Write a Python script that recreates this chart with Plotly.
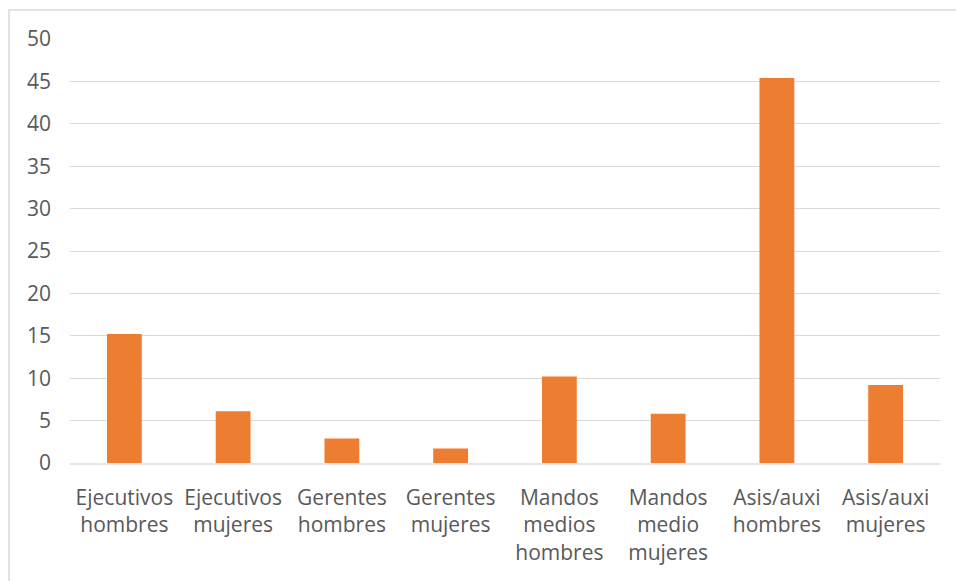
import plotly.graph_objects as go

# Categories (two/three-line labels) and values
categories = [
    "Ejecutivos<br>hombres",
    "Ejecutivos<br>mujeres",
    "Gerentes<br>hombres",
    "Gerentes<br>mujeres",
    "Mandos<br>medios<br>hombres",
    "Mandos<br>medio<br>mujeres",
    "Asis/auxi<br>hombres",
    "Asis/auxi<br>mujeres",
]
values = [15.2, 6.1, 2.9, 1.7, 10.2, 5.8, 45.4, 9.2]
y_ticks = [0, 5, 10, 15, 20, 25, 30, 35, 40, 45, 50]

W, H = 956, 581
L, R, T, B = 70, 16, 39, 118
plot_w = W - L - R
plot_h = H - T - B

fig = go.Figure(
    go.Bar(
        x=categories,
        y=values,
        marker=dict(color="#ED7D31", line=dict(width=0)),
        hoverinfo="x+y",
    )
)

fig.update_layout(
    width=W,
    height=H,
    margin=dict(l=L, r=R, t=T, b=B),
    paper_bgcolor="white",
    plot_bgcolor="white",
    bargap=0.68,
    showlegend=False,
    font=dict(family="Open Sans", size=21, color="#595959"),
    xaxis=dict(
        showgrid=False,
        showline=True,
        linecolor="rgba(217,217,217,0.65)",
        linewidth=1.5,
        layer="above traces",
        ticks="",
        tickangle=0,
        tickfont=dict(size=21, color="#595959"),
        ticklabelstandoff=15,
    ),
    yaxis=dict(
        range=[0, 50],
        tickvals=y_ticks,
        showgrid=True,
        gridcolor="#D9D9D9",
        gridwidth=1.3,
        zeroline=False,
        showline=False,
        ticks="",
        tickfont=dict(size=21, color="#595959"),
        ticklabelstandoff=18,
    ),
    shapes=[
        dict(
            type="rect",
            xref="paper",
            yref="paper",
            x0=(9 - L) / plot_w,
            x1=(W + 20 - L) / plot_w,
            y0=-(H + 20 - T - plot_h) / plot_h,
            y1=1 + (T - 10) / plot_h,
            line=dict(color="#D9D9D9", width=1.5),
            fillcolor="rgba(0,0,0,0)",
            layer="below",
        )
    ],
)

fig.write_html("out.html")
